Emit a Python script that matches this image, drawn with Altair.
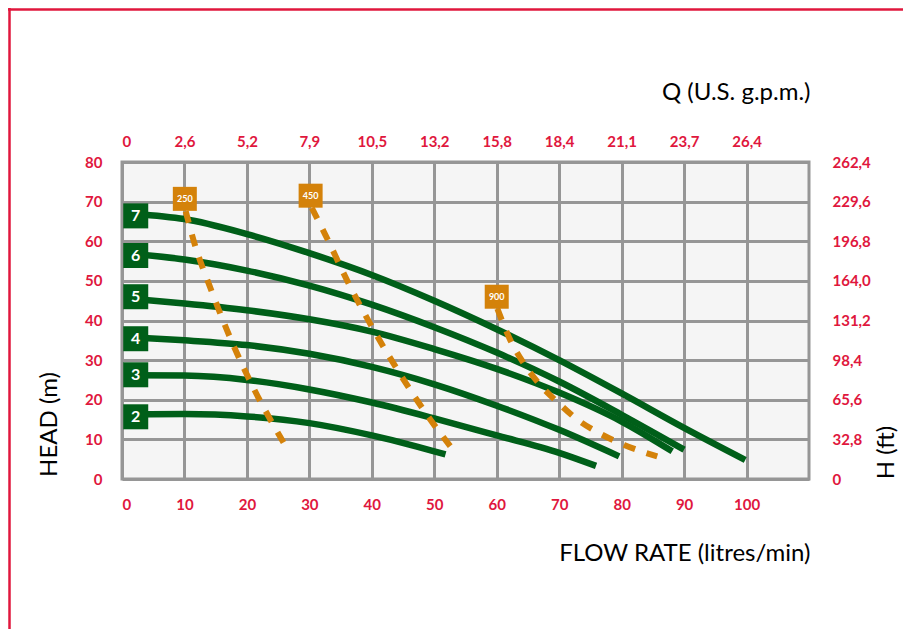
import altair as alt
import pandas as pd

GREEN = "#005f19"
ORANGE = "#d4820a"
RED = "#e0173d"
GRID = "#969696"
BG = "#f5f5f5"

# Pump curves: flow rate (litres/min) vs head (m)
c7_x = [2, 10, 20, 30, 40, 50, 60, 70, 80, 90, 99.8]
c7_y = [66.9, 65.6, 61.8, 57.0, 51.5, 45.0, 37.8, 30.0, 21.6, 12.9, 4.8]
c6_x = [2, 10, 20, 30, 40, 50, 60, 70, 80, 90]
c6_y = [56.8, 55.4, 52.6, 48.8, 44.0, 38.3, 31.9, 24.6, 16.2, 7.4]
c5_x = [2, 10, 20, 30, 40, 50, 60, 70, 80, 88.1]
c5_y = [45.4, 44.3, 42.6, 40.3, 37.2, 32.8, 27.8, 21.8, 14.5, 7.0]
c4_x = [2, 10, 20, 30, 40, 50, 60, 70, 79.6]
c4_y = [35.7, 35.0, 33.8, 31.6, 28.3, 23.9, 18.5, 12.4, 5.7]
c3_x = [2, 10, 20, 30, 40, 50, 60, 70, 75.9]
c3_y = [26.2, 26.1, 25.0, 22.6, 19.3, 15.3, 11.0, 6.6, 3.3]
c2_x = [2, 10, 20, 30, 40, 46, 51.8]
c2_y = [16.3, 16.4, 15.8, 14.1, 11.0, 8.7, 6.2]

curve_names = ["7", "6", "5", "4", "3", "2"]
curve_xs = [c7_x, c6_x, c5_x, c4_x, c3_x, c2_x]
curve_ys = [c7_y, c6_y, c5_y, c4_y, c3_y, c2_y]
curve_label_y = [66.4, 56.4, 46.0, 35.4, 26.3, 15.7]
curve_label_x = 2.2

# Dashed power lines
d250_x = [10.2, 11.5, 14.4, 17.6, 21.2, 25.9]
d250_y = [67.6, 60.0, 47.2, 34.6, 22.5, 9.1]
d450_x = [30.4, 32.6, 36.3, 40.3, 44.8, 49.5, 52.7]
d450_y = [68.4, 61.5, 49.3, 37.6, 25.8, 14.7, 8.0]
d900_x = [60.1, 62.1, 64.2, 66.7, 69.8, 73.0, 76.6, 80.4, 85.7]
d900_y = [43.0, 35.3, 29.5, 24.2, 19.3, 14.9, 11.4, 8.6, 5.7]

dash_names = ["250", "450", "900"]
dash_xs = [d250_x, d450_x, d900_x]
dash_ys = [d250_y, d450_y, d900_y]
dash_label_x = [10.06, 30.2, 60.0]
dash_label_y = [70.7, 71.5, 46.0]

# Axis tick labels
x_ticks = [0, 10, 20, 30, 40, 50, 60, 70, 80, 90, 100]
gpm_labels = ["0", "2,6", "5,2", "7,9", "10,5", "13,2", "15,8", "18,4", "21,1", "23,7", "26,4"]
y_ticks = [0, 10, 20, 30, 40, 50, 60, 70, 80]
ft_labels = ["0", "32,8", "65,6", "98,4", "131,2", "164,0", "196,8", "229,6", "262,4"]

rows = []
for n, xs, ys in zip(curve_names, curve_xs, curve_ys):
    for a, b in zip(xs, ys):
        rows.append({"curve": n, "q": a, "h": b})
curves = pd.DataFrame(rows)

rows = []
for n, xs, ys in zip(dash_names, dash_xs, dash_ys):
    for a, b in zip(xs, ys):
        rows.append({"curve": n, "q": a, "h": b})
dashes = pd.DataFrame(rows)

curve_labels = pd.DataFrame({"name": curve_names, "q": [curve_label_x] * 6, "h": curve_label_y})
dash_labels = pd.DataFrame({"name": dash_names, "q": dash_label_x, "h": dash_label_y})

xscale = alt.Scale(domain=[0, 110], nice=False, zero=False)
yscale = alt.Scale(domain=[0, 80], nice=False, zero=False)

def arr_expr(labels):
    return "[" + ",".join("'" + s + "'" for s in labels) + "][round(datum.value/10)]"

bottom_axis = alt.Axis(orient="bottom", values=x_ticks, grid=True, labelPadding=25,
                       labelBaseline="middle", labelExpr="datum.value == 0 ? '0' : datum.label",
                       title="FLOW RATE (litres/min)", titleX=688, titleY=74,
                       titleAlign="right", titleBaseline="middle", titleAngle=0)
left_axis = alt.Axis(orient="left", values=y_ticks, grid=True, labelPadding=20,
                     labelBaseline="middle", labelAlign="right",
                     title="HEAD (m)", titleX=-73, titleY=262, titleAngle=270,
                     titleAlign="center", titleBaseline="middle")
top_axis = alt.Axis(orient="top", values=x_ticks, grid=False, labelPadding=21,
                    labelBaseline="middle", labelExpr=arr_expr(gpm_labels),
                    title="Q (U.S. g.p.m.)", titleX=688, titleY=-70,
                    titleAlign="right", titleBaseline="middle", titleAngle=0)
right_axis = alt.Axis(orient="right", values=y_ticks, grid=False, labelPadding=23,
                      labelBaseline="middle", labelAlign="left", labelExpr=arr_expr(ft_labels),
                      title="H (ft)", titleX=77, titleY=290, titleAngle=270,
                      titleAlign="center", titleBaseline="middle")

lines = alt.Chart(curves).mark_line(
    color=GREEN, strokeWidth=6.5, interpolate="monotone", strokeCap="butt"
).encode(
    x=alt.X("q:Q", scale=xscale, axis=bottom_axis),
    y=alt.Y("h:Q", scale=yscale, axis=left_axis),
    detail="curve:N",
)

dash_lines = alt.Chart(dashes).mark_line(
    color=ORANGE, strokeWidth=6, strokeDash=[12, 12], interpolate="monotone", strokeCap="butt"
).encode(
    x=alt.X("q:Q", scale=xscale, axis=top_axis),
    y=alt.Y("h:Q", scale=yscale, axis=right_axis),
    detail="curve:N",
)

green_boxes = alt.Chart(curve_labels).mark_square(
    color=GREEN, size=625, opacity=1, filled=True
).encode(
    x=alt.X("q:Q", scale=xscale, axis=None),
    y=alt.Y("h:Q", scale=yscale, axis=None),
)
green_text = alt.Chart(curve_labels).mark_text(
    color="white", font="Lato", fontWeight="bold", fontSize=16, baseline="middle", align="center"
).encode(
    x=alt.X("q:Q", scale=xscale, axis=None),
    y=alt.Y("h:Q", scale=yscale, axis=None),
    text="name:N",
)
orange_boxes = alt.Chart(dash_labels).mark_square(
    color=ORANGE, size=576, opacity=1, filled=True
).encode(
    x=alt.X("q:Q", scale=xscale, axis=None),
    y=alt.Y("h:Q", scale=yscale, axis=None),
)
orange_text = alt.Chart(dash_labels).mark_text(
    color="white", font="Lato", fontWeight="bold", fontSize=9, baseline="middle", align="center"
).encode(
    x=alt.X("q:Q", scale=xscale, axis=None),
    y=alt.Y("h:Q", scale=yscale, axis=None),
    text="name:N",
)

frame_left = alt.Chart(pd.DataFrame({"a": [0]})).mark_rule(color=RED, strokeWidth=2.5).encode(
    x=alt.value(-112.5), y=alt.value(-154), y2=alt.value(480)
)
frame_top = alt.Chart(pd.DataFrame({"a": [0]})).mark_rule(color=RED, strokeWidth=2.5).encode(
    x=alt.value(-114), x2=alt.value(800), y=alt.value(-152.5)
)

chart = alt.layer(
    lines, dash_lines, green_boxes, green_text, orange_boxes, orange_text, frame_left, frame_top
).resolve_axis(x="independent", y="independent").properties(
    width=687, height=317,
    autosize=alt.AutoSizeParams(type="none"),
    padding={"left": 114, "top": 154, "right": 94, "bottom": 150},
    background="white",
).configure_view(
    fill=BG, stroke=GRID, strokeWidth=3
).configure_axis(
    gridColor=GRID, gridWidth=3, gridOpacity=1, domain=False, ticks=False, tickSize=0,
    labelColor=RED, labelFont="Lato", labelFontWeight="bold", labelFontSize=15,
    titleFont="Lato", titleFontSize=24, titleFontWeight="normal", titleColor="black",
)

chart.save("out.html", embed_options={"renderer": "svg", "actions": False})
